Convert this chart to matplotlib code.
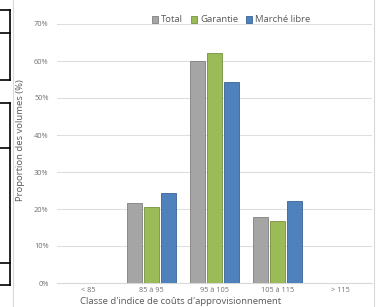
import numpy as np
import matplotlib
matplotlib.use("Agg")
import matplotlib.pyplot as plt
from matplotlib.lines import Line2D

# data (% of volumes)
categories = ["< 85", "85 à 95", "95 à 105", "105 à 115", "> 115"]
total = [0, 21.5, 60.1, 17.9, 0]
garantie = [0, 20.6, 62.2, 16.7, 0]
marche_libre = [0, 24.2, 54.3, 22.1, 0]
series_names = ["Total", "Garantie", "Marché libre"]
yticks = [0, 10, 20, 30, 40, 50, 60, 70]

plt.rcParams['font.family'] = ['Open Sans', 'DejaVu Sans']

W, H = 377, 307
fig = plt.figure(figsize=(W / 100, H / 100), dpi=100)
ax = fig.add_axes([57 / W, (H - 283) / H, (372 - 57) / W, (283 - 24) / H])

colors = ["#a5a5a5", "#9bbb59", "#4f81bd"]
edges = ["#7f7f7f", "#76903f", "#3a6296"]
x = np.arange(len(categories))
w = 0.25
off = 0.27
for i, (vals, name) in enumerate(zip([total, garantie, marche_libre], series_names)):
    ax.bar(x + (i - 1) * off, vals, width=w, color=colors[i], edgecolor=edges[i],
           linewidth=0.6, label=name, zorder=3)

ax.set_xlim(-0.5, len(categories) - 0.5)
ax.set_ylim(0, 70)
ax.set_yticks(yticks)
ax.set_yticklabels([f"{v}%" for v in yticks], fontsize=5.3, color="#707070")
ax.set_xticks(x)
ax.set_xticklabels(categories, fontsize=5.3, color="#707070")
ax.tick_params(axis="y", length=0, pad=6)
ax.tick_params(axis="x", length=0, pad=3)
ax.grid(axis="y", color="#dedede", linewidth=0.8, zorder=0)
for s in ["top", "right", "left"]:
    ax.spines[s].set_visible(False)
ax.spines["bottom"].set_color("#d9d9d9")
ax.spines["bottom"].set_linewidth(0.8)

ax.set_ylabel("Proportion des volumes (%)", fontsize=6.8, color="#595959")
ax.yaxis.set_label_coords((25 - 57) / 315, (283 - 140) / 259)
fig.text(181 / W, (H - 297.5) / H, "Classe d'indice de coûts d'approvisionnement",
         fontsize=6.8, color="#595959", ha="center", va="top")

ax.legend(loc="center", bbox_to_anchor=((231 - 57) / 315, (283 - 20) / 259),
          ncol=3, frameon=False, fontsize=6.8, handlelength=0.7, handleheight=0.7,
          handletextpad=0.3, columnspacing=0.8, labelcolor="#595959")

# chart frame lines
fig.add_artist(Line2D([13 / W, 13 / W], [0, 1], color="#d9d9d9", lw=0.8))
fig.add_artist(Line2D([374 / W, 374 / W], [0, 1], color="#d9d9d9", lw=0.8))

# black table borders on the left edge
def hline(y):
    fig.add_artist(Line2D([0, 10 / W], [(H - y) / H, (H - y) / H], color="black", lw=1.2))

def vline(y0, y1):
    fig.add_artist(Line2D([10 / W, 10 / W], [(H - y0) / H, (H - y1) / H], color="black", lw=1.2))

for y in [10, 33, 80, 103, 148, 263, 285]:
    hline(y)
vline(10, 80)
vline(103, 285)

fig.savefig("out.png", dpi=100)
